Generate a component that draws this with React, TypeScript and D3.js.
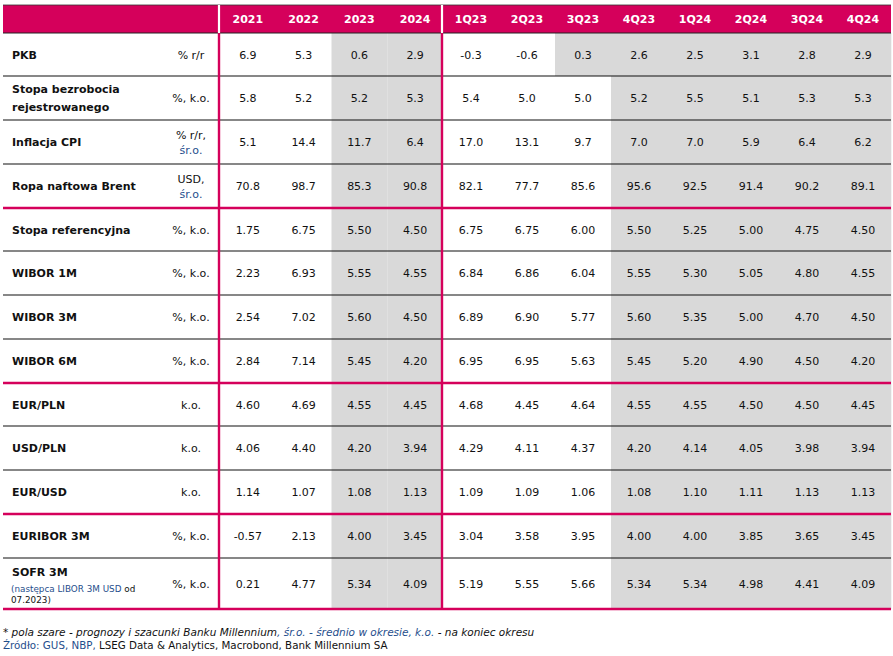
import React from "react";
import * as d3 from "d3";

const years = ["2021", "2022", "2023", "2024"];
const quarters = ["1Q23", "2Q23", "3Q23", "4Q23", "1Q24", "2Q24", "3Q24", "4Q24"];

const labels: string[][] = [
  ["PKB"],
  ["Stopa bezrobocia", "rejestrowanego"],
  ["Inflacja CPI"],
  ["Ropa naftowa Brent"],
  ["Stopa referencyjna"],
  ["WIBOR 1M"],
  ["WIBOR 3M"],
  ["WIBOR 6M"],
  ["EUR/PLN"],
  ["USD/PLN"],
  ["EUR/USD"],
  ["EURIBOR 3M"],
  ["SOFR 3M"],
];

const units: string[][] = [
  ["% r/r"],
  ["%, k.o."],
  ["% r/r,", "śr.o."],
  ["USD,", "śr.o."],
  ["%, k.o."],
  ["%, k.o."],
  ["%, k.o."],
  ["%, k.o."],
  ["k.o."],
  ["k.o."],
  ["k.o."],
  ["%, k.o."],
  ["%, k.o."],
];

const decimals = [1, 1, 1, 1, 2, 2, 2, 2, 2, 2, 2, 2, 2];

const yearValues: number[][] = [
  [6.9, 5.3, 0.6, 2.9],
  [5.8, 5.2, 5.2, 5.3],
  [5.1, 14.4, 11.7, 6.4],
  [70.8, 98.7, 85.3, 90.8],
  [1.75, 6.75, 5.5, 4.5],
  [2.23, 6.93, 5.55, 4.55],
  [2.54, 7.02, 5.6, 4.5],
  [2.84, 7.14, 5.45, 4.2],
  [4.6, 4.69, 4.55, 4.45],
  [4.06, 4.4, 4.2, 3.94],
  [1.14, 1.07, 1.08, 1.13],
  [-0.57, 2.13, 4.0, 3.45],
  [0.21, 4.77, 5.34, 4.09],
];

const quarterValues: number[][] = [
  [-0.3, -0.6, 0.3, 2.6, 2.5, 3.1, 2.8, 2.9],
  [5.4, 5.0, 5.0, 5.2, 5.5, 5.1, 5.3, 5.3],
  [17.0, 13.1, 9.7, 7.0, 7.0, 5.9, 6.4, 6.2],
  [82.1, 77.7, 85.6, 95.6, 92.5, 91.4, 90.2, 89.1],
  [6.75, 6.75, 6.0, 5.5, 5.25, 5.0, 4.75, 4.5],
  [6.84, 6.86, 6.04, 5.55, 5.3, 5.05, 4.8, 4.55],
  [6.89, 6.9, 5.77, 5.6, 5.35, 5.0, 4.7, 4.5],
  [6.95, 6.95, 5.63, 5.45, 5.2, 4.9, 4.5, 4.2],
  [4.68, 4.45, 4.64, 4.55, 4.55, 4.5, 4.5, 4.45],
  [4.29, 4.11, 4.37, 4.2, 4.14, 4.05, 3.98, 3.94],
  [1.09, 1.09, 1.06, 1.08, 1.1, 1.11, 1.13, 1.13],
  [3.04, 3.58, 3.95, 4.0, 4.0, 3.85, 3.65, 3.45],
  [5.19, 5.55, 5.66, 5.34, 5.34, 4.98, 4.41, 4.09],
];

// index of first forecast (grey) year / quarter per row
const forecastYearFrom = [2, 2, 2, 2, 2, 2, 2, 2, 2, 2, 2, 2, 2];
const forecastQuarterFrom = [2, 3, 3, 3, 3, 3, 3, 3, 3, 3, 3, 3, 3];
// rows after which a thick magenta separator is drawn
const groupEnds = [3, 7, 10, 12];

const MAGENTA = "#D5005B";
const GREY = "#D9D9D9";
const BLUE = "#1F4E8C";
const FONT = "'DejaVu Sans', Verdana, sans-serif";

const locale = d3.formatLocale({
  decimal: ".",
  thousands: ",",
  grouping: [3],
  currency: ["", ""],
  minus: "-",
});

export default function App() {
  const W = 893;
  const H = 656;
  const left = 3;
  const right = 891;
  const headTop = 5;
  const headBottom = 33;
  const labelEnd = 220;
  const yearEnd = 443;
  const unitX = 191;
  const labelX = 12;

  const xYear = d3.scaleBand<string>().domain(years).range([labelEnd, yearEnd]);
  const xQuarter = d3.scaleBand<string>().domain(quarters).range([yearEnd, right]);

  const rowHeights = labels.map((_, i) => (i === labels.length - 1 ? 51 : i % 4 === 0 ? 43 : 44));
  const bounds = [headBottom, ...Array.from(d3.cumsum(rowHeights), (c) => headBottom + c)];
  const tableBottom = bounds[bounds.length - 1];

  const fmt = (v: number, d: number) => locale.format(`.${d}f`)(v);

  const txt = { fontFamily: FONT, fontSize: 11, fill: "#111" } as const;

  return (
    <svg
      width={W}
      height={H}
      viewBox={`0 0 ${W} ${H}`}
      style={{ position: "absolute", left: 0, top: 0, background: "#fff" }}
    >
      <rect x={0} y={0} width={W} height={H} fill="#fff" />
      {/* header */}
      <rect x={left} y={headTop} width={right - left} height={headBottom - headTop} fill={MAGENTA} />
      <line x1={left} x2={right} y1={headTop} y2={headTop} stroke="#333" strokeWidth={0.8} />
      {years.map((y) => (
        <text
          key={y}
          x={xYear(y)! + xYear.bandwidth() / 2}
          y={19.5}
          textAnchor="middle"
          dominantBaseline="central"
          style={{ ...txt, fill: "#fff", fontWeight: "bold" }}
        >
          {y}
        </text>
      ))}
      {quarters.map((q) => (
        <text
          key={q}
          x={xQuarter(q)! + xQuarter.bandwidth() / 2}
          y={19.5}
          textAnchor="middle"
          dominantBaseline="central"
          style={{ ...txt, fill: "#fff", fontWeight: "bold" }}
        >
          {q}
        </text>
      ))}

      {/* grey forecast cells */}
      {labels.map((_, r) => (
        <g key={`g${r}`}>
          {years.map((y, c) =>
            c >= forecastYearFrom[r] ? (
              <rect
                key={y}
                x={xYear(y)!}
                y={bounds[r]}
                width={xYear.bandwidth()}
                height={bounds[r + 1] - bounds[r]}
                fill={GREY}
              />
            ) : null
          )}
          {quarters.map((q, c) =>
            c >= forecastQuarterFrom[r] ? (
              <rect
                key={q}
                x={xQuarter(q)!}
                y={bounds[r]}
                width={xQuarter.bandwidth() + 0.3}
                height={bounds[r + 1] - bounds[r]}
                fill={GREY}
              />
            ) : null
          )}
        </g>
      ))}

      {/* horizontal separators */}
      <line x1={left} x2={right} y1={headBottom} y2={headBottom} stroke="#222" strokeWidth={1.2} />
      {labels.map((_, r) => {
        const thick = groupEnds.includes(r);
        return (
          <line
            key={`h${r}`}
            x1={left}
            x2={right}
            y1={bounds[r + 1]}
            y2={bounds[r + 1]}
            stroke={thick ? MAGENTA : "#111"}
            strokeWidth={thick ? 2.6 : 1.2}
          />
        );
      })}

      {/* vertical separators */}
      {[labelEnd, yearEnd].map((x) => (
        <g key={`v${x}`}>
          <line x1={x - 1} x2={x - 1} y1={headTop} y2={headBottom} stroke="#fff" strokeWidth={2.2} />
          <line x1={x - 1} x2={x - 1} y1={headBottom} y2={tableBottom + 1} stroke={MAGENTA} strokeWidth={2.4} />
        </g>
      ))}

      {/* row labels, units, values */}
      {labels.map((lab, r) => {
        const cy = (bounds[r] + bounds[r + 1]) / 2 + 0.5;
        const isLast = r === labels.length - 1;
        return (
          <g key={`r${r}`}>
            {isLast ? (
              <>
                <text x={labelX} y={bounds[r] + 14} dominantBaseline="central" style={{ ...txt, fontWeight: "bold" }}>
                  {lab[0]}
                </text>
                <text x={labelX - 1} y={bounds[r] + 31} dominantBaseline="central" style={{ ...txt, fontSize: 8.8 }}>
                  <tspan fill={BLUE}>(następca LIBOR 3M USD</tspan>
                  <tspan fill="#111"> od</tspan>
                </text>
                <text x={labelX - 1} y={bounds[r] + 42} dominantBaseline="central" style={{ ...txt, fontSize: 8.8 }}>
                  07.2023)
                </text>
              </>
            ) : (
              lab.map((l, k) => (
                <text
                  key={k}
                  x={labelX}
                  y={cy + (k - (lab.length - 1) / 2) * 18}
                  dominantBaseline="central"
                  style={{ ...txt, fontWeight: "bold" }}
                >
                  {l}
                </text>
              ))
            )}
            {units[r].map((u, k) => (
              <text
                key={`u${k}`}
                x={unitX}
                y={cy + (k - (units[r].length - 1) / 2) * 15}
                textAnchor="middle"
                dominantBaseline="central"
                style={{ ...txt, fill: u === "śr.o." ? BLUE : "#111" }}
              >
                {u}
              </text>
            ))}
            {years.map((y, c) => (
              <text
                key={y}
                x={xYear(y)! + xYear.bandwidth() / 2}
                y={cy}
                textAnchor="middle"
                dominantBaseline="central"
                style={txt}
              >
                {fmt(yearValues[r][c], decimals[r])}
              </text>
            ))}
            {quarters.map((q, c) => (
              <text
                key={q}
                x={xQuarter(q)! + xQuarter.bandwidth() / 2}
                y={cy}
                textAnchor="middle"
                dominantBaseline="central"
                style={txt}
              >
                {fmt(quarterValues[r][c], decimals[r])}
              </text>
            ))}
          </g>
        );
      })}

      {/* footnotes */}
      <text x={3} y={632} dominantBaseline="central" style={{ ...txt, fontSize: 10.5, fontStyle: "italic" }}>
        <tspan>* pola szare - prognozy i szacunki Banku Millennium</tspan>
        <tspan fill={BLUE}>, śr.o. - średnio w okresie, k.o.</tspan>
        <tspan> - na koniec okresu</tspan>
      </text>
      <text x={3} y={645} dominantBaseline="central" style={{ ...txt, fontSize: 10.3 }}>
        <tspan fill={BLUE}>Źródło: GUS, NBP,</tspan>
        <tspan> LSEG Data &amp; Analytics, Macrobond, Bank Millennium SA</tspan>
      </text>
    </svg>
  );
}
